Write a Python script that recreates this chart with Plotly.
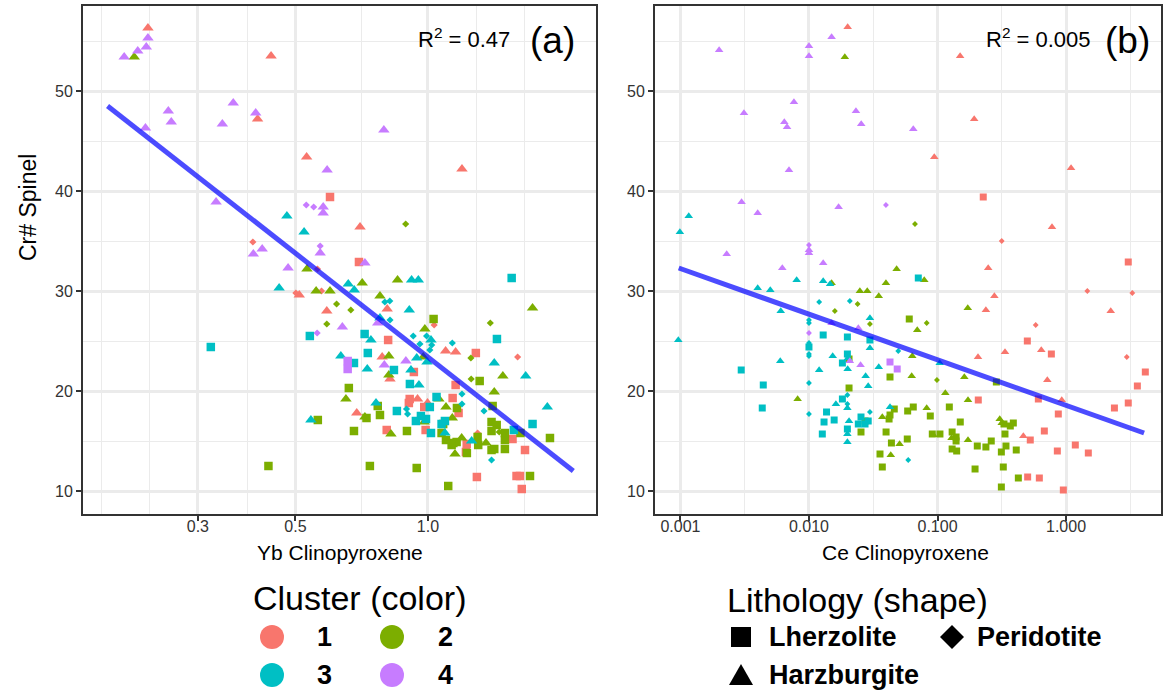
import plotly.graph_objects as go

# ---------------- data: panel (a) Yb in clinopyroxene vs Cr# spinel ----------------
yb_x = [
    0.231, 0.231, 0.229, 0.219, 0.204, 0.215, 0.440, 0.361, 0.257, 0.406,
    0.410, 0.261, 0.341, 0.228, 0.530, 0.590, 0.599, 0.330, 0.478, 0.529,
    0.550, 0.578, 0.578, 0.523, 0.400, 0.420, 0.401, 0.569, 0.569, 0.794,
    1.195, 0.701, 0.890, 0.697, 0.719, 0.481, 0.531, 0.561, 0.459, 0.557,
    0.573, 0.599, 0.659, 0.709, 0.680, 0.853, 0.918, 0.951, 0.501, 0.510,
    0.778, 0.798, 0.819, 0.620, 0.589, 0.668, 0.808, 0.907, 0.778, 0.820,
    0.769, 0.589, 0.639, 0.560, 0.539, 0.718, 0.984, 0.926, 0.993, 0.812,
    0.321, 0.542, 0.562, 0.434, 1.550, 1.729, 1.030, 1.033, 1.386, 0.742,
    0.959, 1.016, 1.020, 1.010, 1.097, 1.156, 1.285, 1.136, 1.435, 1.599,
    1.252, 1.415, 0.634, 0.657, 0.679, 0.657, 0.787, 0.815, 0.730, 0.728,
    0.796, 0.891, 0.943, 0.976, 0.995, 0.837, 0.915, 0.929, 0.815, 0.820,
    0.910, 0.954, 1.156, 1.195, 1.311, 1.254, 1.480, 1.668, 1.415, 1.046,
    1.138, 1.403, 1.341, 1.195, 1.164, 1.174, 1.099, 1.136, 0.909, 0.905,
    0.947, 0.981, 0.998, 1.010, 0.762, 0.769, 0.894, 0.899, 0.850, 0.778,
    0.689, 0.719, 0.725, 0.964, 0.990, 0.939, 0.981, 1.093, 1.074, 1.083,
    1.395, 1.433, 1.395, 1.729, 1.568, 1.496, 1.496, 1.623, 1.894, 1.452,
    1.557, 1.662, 1.415, 1.496, 1.395, 1.395, 1.355, 1.301, 1.297, 1.297,
    1.193, 1.152, 1.142, 1.162, 1.257, 1.225, 1.220, 1.226, 1.099, 1.132,
    1.074, 1.093, 1.016, 0.988, 0.896, 0.806, 0.824, 0.679, 0.651, 0.661,
    0.738, 0.943, 1.112, 1.292, 1.590, 1.619, 1.706, 1.634, 1.868, 1.059,
]
yb_cr = [
    56.3, 55.3, 54.4, 54.0, 53.4, 53.4, 53.5, 48.8, 48.0, 47.8,
    47.2, 46.9, 46.7, 46.3, 43.4, 42.1, 39.4, 38.9, 37.5, 38.6,
    38.4, 38.4, 37.8, 35.9, 34.9, 34.2, 33.7, 34.5, 33.8, 46.1,
    42.2, 36.4, 36.7, 32.9, 32.8, 32.3, 32.2, 32.2, 30.3, 30.0,
    30.0, 30.0, 30.7, 30.8, 30.1, 31.1, 31.1, 31.1, 29.8, 29.6,
    29.5, 28.9, 29.0, 28.7, 28.0, 28.1, 28.2, 28.1, 27.3, 27.1,
    26.8, 26.7, 26.4, 25.8, 25.5, 25.7, 26.2, 25.5, 25.5, 25.1,
    24.4, 17.1, 17.1, 12.5, 31.3, 28.3, 27.2, 26.6, 26.8, 25.1,
    24.7, 25.1, 24.6, 24.1, 24.0, 23.9, 23.8, 24.8, 25.2, 23.4,
    23.3, 22.8, 23.5, 23.0, 22.8, 22.2, 23.4, 23.5, 23.8, 22.2,
    22.6, 23.0, 23.3, 23.4, 22.9, 22.1, 22.1, 21.9, 21.6, 21.2,
    20.7, 20.6, 20.6, 19.7, 21.0, 21.2, 21.5, 21.5, 19.9, 19.4,
    19.3, 18.5, 18.0, 18.7, 18.3, 17.8, 18.4, 17.3, 19.2, 18.8,
    19.2, 18.4, 18.8, 18.4, 18.8, 18.5, 18.2, 17.7, 18.0, 17.6,
    17.8, 17.4, 17.3, 17.5, 17.2, 17.0, 16.9, 17.0, 16.7, 16.7,
    16.9, 16.6, 16.0, 16.7, 16.1, 15.8, 15.1, 15.8, 15.3, 15.9,
    15.2, 14.1, 14.2, 14.2, 14.1, 13.1, 14.8, 14.6, 15.4, 15.8,
    15.3, 13.7, 14.8, 14.9, 15.0, 14.7, 13.9, 13.8, 15.1, 14.6,
    15.8, 15.8, 15.8, 16.1, 16.0, 16.1, 15.7, 16.0, 19.2, 20.3,
    12.5, 12.3, 10.5, 11.4, 11.5, 11.5, 11.5, 10.2, 18.4, 19.2,
]
yb_cluster = [
    1, 4, 4, 4, 4, 2, 1, 4, 4, 4,
    1, 4, 4, 4, 1, 4, 1, 4, 3, 4,
    4, 4, 4, 3, 1, 4, 4, 4, 4, 4,
    1, 1, 2, 1, 4, 4, 2, 1, 3, 2,
    1, 2, 3, 2, 3, 2, 3, 3, 1, 1,
    2, 3, 3, 2, 1, 2, 1, 3, 3, 3,
    4, 2, 4, 4, 3, 3, 2, 3, 3, 1,
    3, 3, 2, 2, 3, 2, 2, 1, 2, 3,
    3, 3, 3, 3, 1, 1, 1, 3, 3, 1,
    2, 3, 3, 4, 3, 4, 1, 2, 3, 3,
    4, 4, 3, 2, 3, 3, 3, 1, 2, 1,
    3, 3, 1, 3, 2, 2, 2, 3, 2, 3,
    1, 2, 3, 3, 2, 1, 2, 2, 1, 1,
    1, 1, 1, 3, 3, 2, 3, 3, 3, 2,
    1, 2, 2, 3, 3, 3, 2, 3, 3, 2,
    2, 2, 2, 3, 3, 2, 2, 2, 2, 2,
    1, 1, 2, 2, 2, 3, 2, 2, 2, 1,
    2, 2, 2, 2, 3, 1, 1, 2, 2, 2,
    2, 3, 3, 1, 2, 1, 2, 2, 2, 2,
    2, 2, 2, 1, 1, 1, 2, 1, 3, 2,
]
# L = Lherzolite, H = Harzburgite, P = Peridotite
yb_lith = list(
    "HHHHHHHHHH" "HHHHHHLHHP" "PHHHPHHPHH" "HHPLHHHPHH" "PHHHHHHHPH"
    "HPPPHPHHHP" "HPHPLLHPPL" "LHLLLHLPPH" "PHPPHHLPLP" "PHHLLLHHLH"
    "HHHHHLHLHH" "LHLPLPHHHL" "LLPPLLHHLL" "HLHLHLPPLL" "HHLLLLHLLL"
    "LLLLLLLLLP" "LLLLLPHLLP" "HHLLHLLLLL" "LHLLLLHLHL" "LLLLLLLLHH"
)

# ---------------- data: panel (b) Ce in clinopyroxene vs Cr# spinel ----------------
ce_x = [
    0.0200, 0.0150, 0.0100, 0.0100, 0.00200, 0.0190, 0.00764, 0.00312, 0.0232, 0.00643,
    0.00675, 0.0255, 0.0648, 0.00699, 0.00299, 0.00399, 0.0170, 0.0397, 0.00116, 0.00099,
    0.0100, 0.0100, 0.0100, 0.00229, 0.150, 0.193, 0.0944, 1.094, 0.227, 0.0668,
    0.778, 0.316, 0.0481, 0.0397, 0.0709, 0.0789, 0.0249, 0.0284, 0.0349, 0.0208,
    0.0239, 0.172, 0.0298, 0.0603, 0.0298, 0.0824, 0.0696, 0.0242, 0.0199, 0.0129,
    0.00620, 0.00802, 0.0129, 0.0150, 0.0146, 0.00399, 0.0050, 0.00603, 0.0120, 0.0159,
    0.0100, 0.0100, 0.0150, 0.0100, 0.0129, 0.0298, 0.000962, 0.0100, 0.0100, 0.0100,
    0.0100, 0.0298, 0.0495, 0.0153, 0.0199, 0.0201, 0.0205, 0.0208, 0.0182, 0.00598,
    0.0252, 0.0349, 0.0427, 0.0486, 0.0120, 0.0200, 0.00297, 0.0427, 0.0276, 0.0289,
    0.0205, 0.00441, 0.0100, 0.0199, 0.0182, 0.0162, 0.0199, 0.0199, 0.00816, 0.00433,
    0.0100, 0.0137, 0.0298, 0.0427, 0.0461, 0.0586, 0.0427, 0.0420, 0.0372, 0.0157,
    0.0131, 0.0205, 0.0254, 0.0242, 0.0273, 0.0289, 0.0273, 0.0199, 0.0199, 0.0127,
    0.0254, 0.0398, 0.0199, 0.0438, 0.0507, 0.0582, 0.0357, 0.0433, 0.0372, 0.0592,
    3.05, 0.248, 1.465, 3.28, 0.277, 0.238, 2.228, 0.581, 0.500, 0.642,
    0.769, 0.335, 0.2066, 2.97, 4.14, 3.59, 0.0636, 0.104, 0.063, 0.099,
    0.1617, 0.287, 0.715, 0.609, 0.926, 0.871, 2.38, 3.05, 0.2077, 0.115,
    0.1727, 0.0648, 0.0824, 0.1236, 0.0879, 0.1504, 0.305, 0.329, 0.3686, 0.389,
    0.316, 0.0911, 0.1045, 0.093, 0.130, 0.1395, 0.1395, 0.1287, 0.1727, 0.130,
    0.141, 0.335, 0.262, 0.204, 0.238, 0.341, 0.314, 0.410, 0.4655, 0.527,
    0.678, 0.856, 1.181, 1.491, 0.196, 0.325, 0.4256, 0.503, 0.620, 0.314, 0.953,
]
ce_cr = [
    56.4, 55.4, 54.5, 53.5, 54.1, 53.4, 48.9, 47.8, 48.0, 46.9,
    46.4, 46.7, 46.2, 42.1, 38.9, 37.8, 38.4, 38.6, 37.5, 35.9,
    34.6, 34.1, 33.8, 33.7, 53.5, 47.2, 43.4, 42.3, 39.4, 36.7,
    36.4, 35.0, 32.2, 30.8, 31.3, 31.1, 30.0, 30.0, 29.5, 29.0,
    28.7, 28.3, 27.3, 27.2, 26.7, 26.8, 26.1, 26.3, 25.4, 32.8,
    32.3, 31.1, 31.0, 30.8, 30.7, 30.3, 30.1, 28.0, 28.9, 28.0,
    27.1, 26.8, 26.8, 25.8, 25.6, 25.1, 25.1, 24.8, 24.4, 23.7,
    23.5, 24.3, 24.0, 23.5, 23.7, 23.3, 23.2, 23.0, 22.8, 23.0,
    22.6, 22.4, 22.9, 22.2, 22.1, 22.2, 22.1, 21.4, 21.5, 20.5,
    20.3, 20.6, 20.8, 19.6, 19.2, 18.7, 18.7, 18.3, 19.2, 18.3,
    17.7, 17.9, 17.9, 18.4, 18.2, 18.0, 17.6, 17.2, 17.4, 17.1,
    16.9, 17.0, 17.4, 16.7, 16.7, 17.0, 17.0, 16.2, 15.7, 15.7,
    15.9, 15.9, 14.9, 14.8, 14.7, 15.2, 13.7, 13.6, 12.4, 13.1,
    32.9, 32.3, 30.0, 29.8, 29.5, 28.1, 28.0, 26.6, 25.0, 24.1,
    23.7, 23.9, 23.4, 23.4, 21.9, 20.5, 23.5, 22.8, 21.5, 21.1,
    21.4, 20.9, 21.1, 19.2, 19.1, 17.7, 18.3, 18.8, 19.1, 19.8,
    19.1, 18.4, 18.3, 18.4, 17.5, 16.9, 17.2, 16.7, 16.5, 16.8,
    16.8, 15.7, 15.7, 15.6, 15.9, 15.4, 15.0, 15.3, 15.1, 14.2,
    14.0, 15.7, 15.0, 14.5, 14.4, 14.5, 13.9, 14.1, 15.5, 15.1,
    16.0, 14.0, 14.6, 13.8, 12.2, 12.4, 11.3, 11.4, 11.3, 10.4, 10.1,
]
ce_cluster = [
    1, 4, 4, 4, 4, 2, 4, 4, 4, 4,
    4, 4, 4, 4, 4, 4, 4, 4, 3, 3,
    4, 4, 4, 4, 1, 1, 1, 1, 1, 2,
    1, 1, 2, 2, 3, 2, 2, 2, 2, 3,
    2, 2, 3, 2, 2, 2, 2, 4, 3, 4,
    4, 3, 3, 2, 3, 3, 3, 3, 3, 2,
    3, 3, 4, 4, 3, 3, 3, 3, 3, 3,
    3, 3, 3, 3, 3, 3, 2, 4, 3, 3,
    4, 3, 4, 4, 3, 3, 3, 2, 3, 3,
    2, 3, 3, 3, 3, 3, 3, 3, 2, 3,
    3, 3, 3, 3, 2, 2, 2, 2, 2, 3,
    3, 3, 3, 3, 3, 3, 2, 3, 3, 3,
    2, 2, 3, 2, 2, 2, 2, 2, 2, 3,
    1, 1, 1, 1, 1, 1, 1, 1, 1, 1,
    1, 1, 1, 1, 1, 1, 2, 3, 2, 2,
    2, 2, 1, 1, 1, 1, 1, 1, 1, 2,
    2, 2, 2, 2, 2, 2, 2, 2, 2, 2,
    2, 2, 2, 2, 2, 2, 2, 2, 2, 2,
    2, 2, 2, 2, 2, 2, 2, 2, 1, 1,
    1, 1, 1, 1, 2, 2, 2, 1, 1, 2, 1,
]
ce_lith = list(
    "HHHHHHHHHH" "HHHHHHHPHH" "PHHHHHHHLP" "HPHHLHHHHP" "PHHLPPHHLH"
    "HHHHHHHHPP" "PPHPLLHPLP" "PHPHLHLHLH" "HHLLHHLLHH" "LLPPLHPHHL"
    "PLPHLLLLHL" "LHLLLLLLHL" "LLHLHLLHLP" "LHPPHHHPLH" "LHHPLLHHHP"
    "HLHLHLLLLH" "HLHLLLHLLL" "HLLHLLLHHL" "LLLLLLLLHL" "LLLLLLLLLLL"
)

# linear-fit end points
yb_fit_x = [0.187, 2.14]
yb_fit_y = [48.5, 12.0]
ce_fit_x = [0.00097, 4.05]
ce_fit_y = [32.3, 15.8]

r2_labels = ["0.47", "0.005"]
panel_tags = ["(a)", "(b)"]
cluster_names = ["1", "2", "3", "4"]
lith_names = {"L": "Lherzolite", "P": "Peridotite", "H": "Harzburgite"}

# ---------------- styling ----------------
COLORS = {1: "#F8766D", 2: "#7CAE00", 3: "#00BFC4", 4: "#C77CFF"}
SYMBOLS = {"L": "square", "H": "triangle-up", "P": "diamond"}
FONT = "Liberation Sans, Arial, Helvetica, sans-serif"
W, H = 1168, 690


def px(x):
    return x / W


def py(y):
    return 1 - y / H


fig = go.Figure()


def add_points(xs, ys, cl, li, xa, ya, sizes):
    for c in [1, 2, 3, 4]:
        for l in ["L", "H", "P"]:
            idx = [i for i in range(len(xs)) if cl[i] == c and li[i] == l]
            if not idx:
                continue
            fig.add_trace(go.Scatter(
                x=[xs[i] for i in idx], y=[ys[i] for i in idx], mode="markers",
                marker=dict(color=COLORS[c], symbol=SYMBOLS[l], size=sizes[l], line=dict(width=0)),
                xaxis=xa, yaxis=ya, showlegend=False, hoverinfo="skip"))


add_points(yb_x, yb_cr, yb_cluster, yb_lith, "x", "y", {"L": 8.5, "H": 10, "P": 5.5})
add_points(ce_x, ce_cr, ce_cluster, ce_lith, "x2", "y2", {"L": 7, "H": 7.5, "P": 4.5})

for fx, fy, xa, ya in [(yb_fit_x, yb_fit_y, "x", "y"), (ce_fit_x, ce_fit_y, "x2", "y2")]:
    fig.add_trace(go.Scatter(x=fx, y=fy, mode="lines", line=dict(color="rgba(0,0,255,0.7)", width=5),
                             xaxis=xa, yaxis=ya, showlegend=False, hoverinfo="skip"))

GRID = "#EBEBEB"
axis_common = dict(
    showgrid=True, gridcolor=GRID, gridwidth=2.5, zeroline=False,
    showline=True, mirror=True, linecolor="#333333", linewidth=2,
    ticks="outside", ticklen=5, tickwidth=2, tickcolor="#333333",
    tickfont=dict(size=16, color="#333333", family=FONT),
)

y_ticks = [10, 20, 30, 40, 50]
y_minor = [15, 25, 35, 45, 55]
y_range = [7.7, 58.5]
ydom = [py(514), py(6)]

fig.update_layout(
    width=W, height=H, margin=dict(l=0, r=0, t=0, b=0),
    paper_bgcolor="white", plot_bgcolor="white", showlegend=False,
    font=dict(family=FONT, color="black"),
    xaxis=dict(axis_common, type="log", domain=[px(83), px(596)], range=[-0.784, 0.382],
               tickvals=[0.3, 0.5, 1.0], ticktext=["0.3", "0.5", "1.0"], anchor="y",
               ticklabelstandoff=-8,
               minor=dict(tickvals=[0.181, 0.233, 0.388, 0.708, 1.292, 1.661], showgrid=True,
                          gridcolor=GRID, gridwidth=1.3)),
    yaxis=dict(axis_common, domain=ydom, range=y_range, tickvals=y_ticks, anchor="x",
               minor=dict(tickvals=y_minor, showgrid=True, gridcolor=GRID, gridwidth=1.3)),
    xaxis2=dict(axis_common, type="log", domain=[px(655), px(1161)], range=[-3.198, 0.739],
                tickvals=[0.001, 0.01, 0.1, 1], ticktext=["0.001", "0.010", "0.100", "1.000"], anchor="y2",
                ticklabelstandoff=-8,
                minor=dict(tickvals=[0.00316, 0.0316, 0.316, 3.16], showgrid=True,
                           gridcolor=GRID, gridwidth=1.3)),
    yaxis2=dict(axis_common, domain=ydom, range=y_range, tickvals=y_ticks, anchor="x2",
                minor=dict(tickvals=y_minor, showgrid=True, gridcolor=GRID, gridwidth=1.3)),
)

ann = []
# axis titles
ann.append(dict(text="Yb Clinopyroxene", x=px(339.5), y=py(552), font=dict(size=21)))
ann.append(dict(text="Ce Clinopyroxene", x=px(905), y=py(552), font=dict(size=21)))
ann.append(dict(text="Cr# Spinel", x=px(28), y=py(208), textangle=-90, font=dict(size=23)))
# R2 and panel tags
ann.append(dict(text="R<sup>2</sup> = " + r2_labels[0], x=px(512), y=py(38), xanchor="right", font=dict(size=22)))
ann.append(dict(text=panel_tags[0], x=px(552), y=py(40), font=dict(size=37)))
ann.append(dict(text="R<sup>2</sup> = " + r2_labels[1], x=px(1093), y=py(38), xanchor="right", font=dict(size=22)))
ann.append(dict(text=panel_tags[1], x=px(1127), y=py(40), font=dict(size=37)))
# legend titles
ann.append(dict(text="Cluster (color)", x=px(359), y=py(598), font=dict(size=34)))
ann.append(dict(text="Lithology (shape)", x=px(857), y=py(600), font=dict(size=34)))

shapes = []
# cluster legend
cl_pos = [(272, 637), (392, 637), (272, 675), (392, 675)]
for k, (cx, cy) in enumerate(cl_pos):
    r = 12
    shapes.append(dict(type="circle", xref="paper", yref="paper", x0=px(cx - r), x1=px(cx + r),
                       y0=py(cy + r), y1=py(cy - r), fillcolor=COLORS[k + 1], line=dict(width=0)))
    ann.append(dict(text="<b>" + cluster_names[k] + "</b>", x=px(cx + 53), y=py(cy), font=dict(size=27)))

# lithology legend
sq = (741, 637)
shapes.append(dict(type="rect", xref="paper", yref="paper", x0=px(sq[0] - 10), x1=px(sq[0] + 10),
                   y0=py(sq[1] + 10), y1=py(sq[1] - 10), fillcolor="black", line=dict(width=0)))
dm = (952, 637)
shapes.append(dict(type="path", xref="paper", yref="paper", fillcolor="black", line=dict(width=0),
                   path=f"M {px(dm[0]-12)},{py(dm[1])} L {px(dm[0])},{py(dm[1]-12)} L {px(dm[0]+12)},{py(dm[1])} L {px(dm[0])},{py(dm[1]+12)} Z"))
tr = (741, 675)
shapes.append(dict(type="path", xref="paper", yref="paper", fillcolor="black", line=dict(width=0),
                   path=f"M {px(tr[0]-12)},{py(tr[1]+10)} L {px(tr[0]+12)},{py(tr[1]+10)} L {px(tr[0])},{py(tr[1]-11)} Z"))
ann.append(dict(text="<b>" + lith_names["L"] + "</b>", x=px(767), y=py(637), xanchor="left", font=dict(size=27)))
ann.append(dict(text="<b>" + lith_names["P"] + "</b>", x=px(975), y=py(637), xanchor="left", font=dict(size=27)))
ann.append(dict(text="<b>" + lith_names["H"] + "</b>", x=px(767), y=py(675), xanchor="left", font=dict(size=27)))

for a in ann:
    a.setdefault("xref", "paper")
    a.setdefault("yref", "paper")
    a.setdefault("showarrow", False)
    a.setdefault("xanchor", "center")
    a.setdefault("yanchor", "middle")
    a["font"].setdefault("family", FONT)
    a["font"].setdefault("color", "black")

fig.update_layout(annotations=ann, shapes=shapes)
fig.write_html("out.html")
